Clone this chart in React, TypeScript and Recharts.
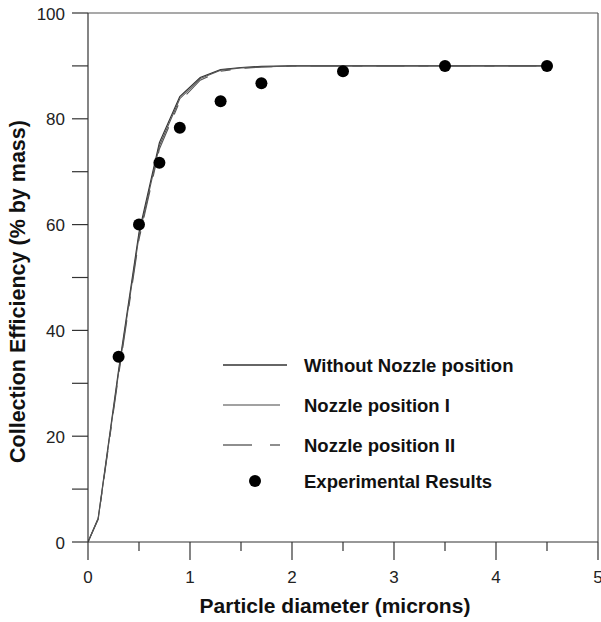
import React from "react";
import {
  ComposedChart,
  Line,
  Scatter,
  XAxis,
  YAxis,
  ReferenceLine,
  Legend,
} from "recharts";

// Particle diameters (microns) at which the simulated curves are evaluated
const diameters = [0, 0.1, 0.3, 0.5, 0.7, 0.9, 1.1, 1.3, 1.5, 1.7, 2.0, 2.5, 3.0, 3.5, 4.0, 4.5];
// Simulated collection efficiency (% by mass)
const withoutNozzle = [0, 4.5, 32.5, 58.5, 75.5, 84.2, 87.8, 89.3, 89.7, 89.9, 90, 90, 90, 90, 90, 90];
const nozzlePosI = [0, 4.4, 32.0, 57.8, 74.9, 83.8, 87.6, 89.2, 89.6, 89.8, 90, 90, 90, 90, 90, 90];
const nozzlePosII = [0, 4.3, 31.5, 57.2, 74.3, 83.3, 87.3, 89.0, 89.5, 89.8, 90, 90, 90, 90, 90, 90];

// Measured points
const expDiameters = [0.3, 0.5, 0.7, 0.9, 1.3, 1.7, 2.5, 3.5, 4.5];
const expEfficiency = [35, 60, 71.7, 78.3, 83.3, 86.7, 89, 90, 90];

const xTicks = [0, 0.5, 1, 1.5, 2, 2.5, 3, 3.5, 4, 4.5, 5];
const yTicks = [0, 10, 20, 30, 40, 50, 60, 70, 80, 90, 100];

const seriesNames = [
  "Without Nozzle position",
  "Nozzle position I",
  "Nozzle position II",
  "Experimental Results",
];

const FONT = "'Liberation Sans', Arial, Helvetica, sans-serif";
const AXIS = "#333";

const toPoints = (ys: number[]) => diameters.map((x, i) => ({ x, y: ys[i] }));
const expPoints = expDiameters.map((x, i) => ({ x, y: expEfficiency[i] }));

const XTick = (props: any) => {
  const { x, y, payload } = props;
  const v = payload.value as number;
  const major = Number.isInteger(v);
  return (
    <g>
      <line x1={x} y1={y} x2={x} y2={y + (major ? 18 : 9)} stroke={AXIS} strokeWidth={1.2} />
      {major && (
        <text x={x} y={y + 35} textAnchor="middle" dominantBaseline="central" fontSize={17} fill="#222" fontFamily={FONT}>
          {v}
        </text>
      )}
    </g>
  );
};

const YTick = (props: any) => {
  const { x, y, payload } = props;
  const v = payload.value as number;
  return (
    <g>
      <line x1={x - 16} y1={y} x2={x} y2={y} stroke={AXIS} strokeWidth={1.2} />
      {v % 20 === 0 && (
        <text x={x - 23} y={y + 1} textAnchor="end" dominantBaseline="central" fontSize={17} fill="#222" fontFamily={FONT}>
          {v}
        </text>
      )}
    </g>
  );
};

const XTitle = (props: any) => {
  const { viewBox } = props;
  const cx = viewBox.x + viewBox.width / 2 - 8;
  const cy = viewBox.y + 63;
  return (
    <text x={cx} y={cy} textAnchor="middle" dominantBaseline="central" fontSize={21} fontWeight="bold" fill="#111" fontFamily={FONT}>
      Particle diameter (microns)
    </text>
  );
};

const YTitle = (props: any) => {
  const { viewBox } = props;
  const cx = viewBox.x + 18;
  const cy = viewBox.y + viewBox.height / 2 + 14;
  return (
    <text
      x={cx}
      y={cy}
      transform={`rotate(-90 ${cx} ${cy})`}
      textAnchor="middle"
      dominantBaseline="central"
      fontSize={21.5}
      fontWeight="bold"
      fill="#111"
      fontFamily={FONT}
    >
      Collection Efficiency (% by mass)
    </text>
  );
};

const LegendBox = (props: any) => {
  const payload = (props.payload || []) as any[];
  const rows = [20, 60, 100, 136];
  const byName = (n: string) => payload.find((p) => p.value === n);
  return (
    <svg width={320} height={155} style={{ display: "block" }}>
      {seriesNames.map((name, i) => {
        const y = rows[i];
        const entry = byName(name);
        const color = entry?.color || "#222";
        let icon: React.ReactNode = null;
        if (i === 0) icon = <line x1={8} y1={y} x2={72} y2={y} stroke="#333" strokeWidth={1.3} />;
        if (i === 1) icon = <line x1={8} y1={y} x2={65} y2={y} stroke="#444" strokeWidth={1.2} />;
        if (i === 2)
          icon = (
            <g stroke="#444" strokeWidth={1.2}>
              <line x1={8} y1={y} x2={37} y2={y} />
              <line x1={55} y1={y} x2={65} y2={y} />
            </g>
          );
        if (i === 3) icon = <circle cx={40} cy={y} r={6} fill={color} />;
        return (
          <g key={name}>
            {icon}
            <text x={89} y={y} dominantBaseline="central" fontSize={18.5} fontWeight="bold" fill="#111" fontFamily={FONT}>
              {name}
            </text>
          </g>
        );
      })}
    </svg>
  );
};

const Dot = (props: any) => <circle cx={props.cx} cy={props.cy} r={6} fill="#000" />;

export default function App() {
  return (
    <div style={{ position: "absolute", left: 0, top: 0, background: "#fff" }}>
      <ComposedChart width={601} height={622} margin={{ top: 13, right: 3, left: 0, bottom: 0 }}>
        <XAxis
          dataKey="x"
          type="number"
          domain={[0, 5]}
          ticks={xTicks}
          interval={0}
          height={80}
          tickSize={0}
          tickMargin={0}
          tick={<XTick />}
          axisLine={{ stroke: AXIS, strokeWidth: 1.2 }}
          tickLine={false}
          allowDataOverflow
          label={<XTitle />}
        />
        <YAxis
          dataKey="y"
          type="number"
          domain={[0, 100]}
          ticks={yTicks}
          interval={0}
          width={88}
          tickSize={0}
          tickMargin={0}
          tick={<YTick />}
          axisLine={{ stroke: AXIS, strokeWidth: 1.2 }}
          tickLine={false}
          allowDataOverflow
          label={<YTitle />}
        />
        <ReferenceLine y={100} stroke="#555" strokeWidth={1.2} />
        <ReferenceLine x={5} stroke="#555" strokeWidth={1.2} />
        <Line
          data={toPoints(withoutNozzle)}
          dataKey="y"
          name={seriesNames[0]}
          type="linear"
          stroke="#333"
          strokeWidth={1.2}
          dot={false}
          activeDot={false}
          isAnimationActive={false}
        />
        <Line
          data={toPoints(nozzlePosI)}
          dataKey="y"
          name={seriesNames[1]}
          type="linear"
          stroke="#555"
          strokeWidth={1.1}
          dot={false}
          activeDot={false}
          isAnimationActive={false}
        />
        <Line
          data={toPoints(nozzlePosII)}
          dataKey="y"
          name={seriesNames[2]}
          type="linear"
          stroke="#555"
          strokeWidth={1.1}
          strokeDasharray="28 14 10 14"
          dot={false}
          activeDot={false}
          isAnimationActive={false}
        />
        <Scatter
          data={expPoints}
          dataKey="y"
          name={seriesNames[3]}
          fill="#000"
          shape={<Dot />}
          isAnimationActive={false}
        />
        <Legend
          layout="vertical"
          align="center"
          verticalAlign="middle"
          content={<LegendBox />}
          wrapperStyle={{ position: "absolute", left: 215, top: 345, width: 320 }}
        />
      </ComposedChart>
    </div>
  );
}
